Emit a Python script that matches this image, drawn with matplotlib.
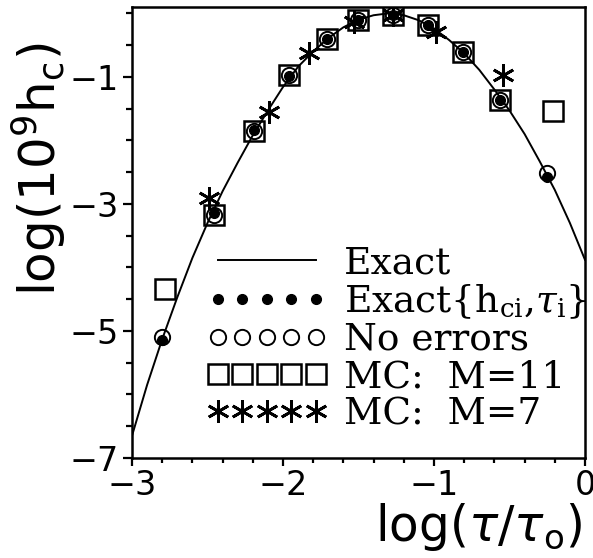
import numpy as np
import matplotlib.pyplot as plt
from matplotlib.font_manager import FontProperties
from matplotlib.lines import Line2D
from matplotlib.ticker import MultipleLocator

# exact h_c curve, log10 scale
log_tau_curve = [-3.0, -2.9, -2.8, -2.7, -2.6, -2.5, -2.4, -2.3, -2.2, -2.1, -2.0,
                 -1.9, -1.8, -1.7, -1.6, -1.5, -1.4, -1.3, -1.2, -1.1, -1.0,
                 -0.9, -0.8, -0.7, -0.6, -0.5, -0.4, -0.3, -0.2, -0.1, 0.0]
log_hc_curve = [-6.65, -5.85, -5.13, -4.47, -3.85, -3.30, -2.80, -2.35, -1.92, -1.53, -1.16,
                -0.84, -0.60, -0.39, -0.22, -0.10, -0.03, 0.00, -0.03, -0.11, -0.24,
                -0.42, -0.63, -0.89, -1.20, -1.53, -1.90, -2.33, -2.78, -3.30, -3.88]

# sampled relaxation times
log_tau_i = [-2.80, -2.46, -2.19, -1.96, -1.71, -1.50, -1.27, -1.04, -0.81, -0.56, -0.25]
log_hc_exact = [-5.14, -3.15, -1.84, -0.98, -0.40, -0.10, -0.02, -0.18, -0.61, -1.36, -2.57]
log_hc_noerr = [-5.09, -3.17, -1.85, -0.97, -0.40, -0.10, -0.02, -0.18, -0.61, -1.36, -2.51]

# Monte Carlo reconstructions
log_tau_m11 = [-2.78, -2.46, -2.19, -1.96, -1.71, -1.50, -1.27, -1.04, -0.81, -0.56, -0.21]
log_hc_m11 = [-4.34, -3.17, -1.85, -0.97, -0.40, -0.10, -0.02, -0.18, -0.61, -1.36, -1.54]
log_tau_m7 = [-2.49, -2.09, -1.83, -1.53, -1.27, -0.99, -0.54]
log_hc_m7 = [-2.91, -1.55, -0.62, -0.13, -0.02, -0.29, -0.97]

labels = ['Exact', r'Exact{h$_{\rm ci}$,$\tau_{\rm i}$}', 'No errors',
          'MC:  M=11', 'MC:  M=7']

star = (6, 2, 0)

fig = plt.figure(figsize=(5.93, 5.58), dpi=100)
ax = fig.add_axes([0.2226, 0.1792, 0.7639, 0.8083])

ax.plot(log_tau_curve, log_hc_curve, color='black', lw=1.4, zorder=2)
ax.plot(log_tau_m11, log_hc_m11, ls='none', marker='s', ms=15, mfc='none',
        mec='black', mew=1.8, zorder=3)
ax.plot(log_tau_i, log_hc_noerr, ls='none', marker='o', ms=11, mfc='none',
        mec='black', mew=1.4, zorder=4)
ax.plot(log_tau_i, log_hc_exact, ls='none', marker='o', ms=7, mfc='black',
        mec='black', zorder=5)
ax.plot(log_tau_m7, log_hc_m7, ls='none', marker=star, ms=16, mec='black',
        mew=2.0, zorder=6)

ax.set_xlim(-3, 0)
ax.set_ylim(-7, 0.1)
ax.set_xticks([-3, -2, -1, 0])
ax.set_yticks([-7, -5, -3, -1])
ax.xaxis.set_minor_locator(MultipleLocator(0.2))
ax.yaxis.set_minor_locator(MultipleLocator(0.5))
ax.tick_params(which='both', direction='out', width=1.6, labelsize=24)
ax.tick_params(axis='x', which='major', length=6, pad=2)
ax.tick_params(axis='x', which='minor', length=3.5)
ax.tick_params(axis='y', which='major', length=6.5, pad=3)
ax.tick_params(axis='y', which='minor', length=4)
for sp in ax.spines.values():
    sp.set_linewidth(1.8)

ax.set_xlabel(r'$\mathrm{log(}\tau/\tau_{\mathrm{o}}\mathrm{)}$', fontsize=35, loc='right')
ax.xaxis.set_label_coords(0.994, -0.095)
ax.set_ylabel(r'$\mathrm{log(10^{9}h_{c})}$', fontsize=36)
ax.yaxis.set_label_coords(-0.141, 0.64)

handles = [
    Line2D([], [], color='black', lw=1.4),
    Line2D([], [], ls='none', marker='o', ms=7, mfc='black', mec='black'),
    Line2D([], [], ls='none', marker='o', ms=11, mfc='none', mec='black', mew=1.4),
    Line2D([], [], ls='none', marker='s', ms=15, mfc='none', mec='black', mew=1.8),
    Line2D([], [], ls='none', marker=star, ms=16, mec='black', mew=2.0),
]
prop = FontProperties(family='DejaVu Serif', size=27, math_fontfamily='dejavuserif')
ax.legend(handles, labels, prop=prop, numpoints=5, handlelength=3.21,
          handletextpad=0.45, labelspacing=0.03, frameon=False,
          loc='upper left', bbox_to_anchor=(0.165, 0.472),
          borderaxespad=0, borderpad=0)

fig.savefig('out.png')
